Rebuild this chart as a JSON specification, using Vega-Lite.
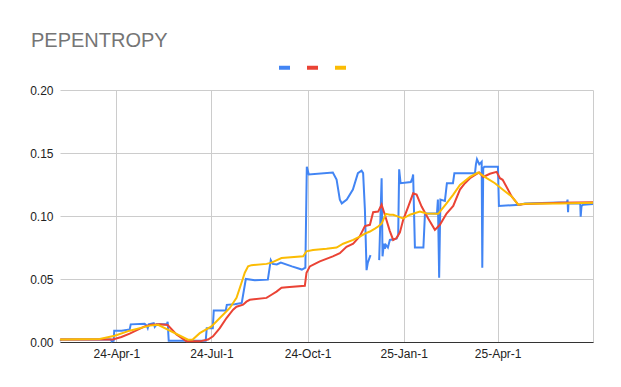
{
  "$schema": "https://vega.github.io/schema/vega-lite/v6.json",
  "width": 533,
  "height": 252,
  "autosize": {"type": "none"},
  "padding": {"left": 60, "top": 90, "right": 28, "bottom": 45},
  "background": "white",
  "title": {"text": "PEPENTROPY", "anchor": "start", "frame": "group", "dx": -29, "offset": -7, "baseline": "alphabetic", "fontSize": 20, "font": "Liberation Sans", "fontWeight": "normal", "color": "#757575"},
  "config": {
    "view": {"stroke": null},
    "axis": {"labelFont": "Liberation Sans", "labelFontSize": 12, "labelColor": "#222222", "gridColor": "#cccccc", "gridWidth": 1, "ticks": false, "title": null}
  },
  "data": {"values": [
    {"d": "2024-02-07T00:00", "s": "a", "v": 0.001},
    {"d": "2024-02-08T12:00", "s": "a", "v": 0.002},
    {"d": "2024-03-26T12:00", "s": "a", "v": 0.002},
    {"d": "2024-03-27T12:00", "s": "a", "v": 0.0005},
    {"d": "2024-03-29T10:00", "s": "a", "v": 0.001},
    {"d": "2024-03-29T22:00", "s": "a", "v": 0.009},
    {"d": "2024-04-06T00:00", "s": "a", "v": 0.009},
    {"d": "2024-04-13T17:00", "s": "a", "v": 0.010},
    {"d": "2024-04-14T17:00", "s": "a", "v": 0.014},
    {"d": "2024-04-28T00:00", "s": "a", "v": 0.0145},
    {"d": "2024-04-30T00:00", "s": "a", "v": 0.013},
    {"d": "2024-05-01T00:00", "s": "a", "v": 0.011},
    {"d": "2024-05-01T22:00", "s": "a", "v": 0.014},
    {"d": "2024-05-06T17:00", "s": "a", "v": 0.015},
    {"d": "2024-05-07T17:00", "s": "a", "v": 0.012},
    {"d": "2024-05-09T14:00", "s": "a", "v": 0.014},
    {"d": "2024-05-19T05:00", "s": "a", "v": 0.014},
    {"d": "2024-05-20T02:00", "s": "a", "v": 0.016},
    {"d": "2024-05-21T02:00", "s": "a", "v": 0.001},
    {"d": "2024-06-25T12:00", "s": "a", "v": 0.001},
    {"d": "2024-06-26T12:00", "s": "a", "v": 0.011},
    {"d": "2024-07-02T07:00", "s": "a", "v": 0.011},
    {"d": "2024-07-03T05:00", "s": "a", "v": 0.025},
    {"d": "2024-07-14T17:00", "s": "a", "v": 0.025},
    {"d": "2024-07-15T17:00", "s": "a", "v": 0.0295},
    {"d": "2024-07-23T07:00", "s": "a", "v": 0.030},
    {"d": "2024-07-30T00:00", "s": "a", "v": 0.031},
    {"d": "2024-08-02T22:00", "s": "a", "v": 0.050},
    {"d": "2024-08-11T12:00", "s": "a", "v": 0.049},
    {"d": "2024-08-24T00:00", "s": "a", "v": 0.0495},
    {"d": "2024-08-26T19:00", "s": "a", "v": 0.065},
    {"d": "2024-08-28T17:00", "s": "a", "v": 0.062},
    {"d": "2024-09-01T14:00", "s": "a", "v": 0.0615},
    {"d": "2024-09-05T10:00", "s": "a", "v": 0.063},
    {"d": "2024-09-16T00:00", "s": "a", "v": 0.060},
    {"d": "2024-09-25T14:00", "s": "a", "v": 0.0575},
    {"d": "2024-09-28T22:00", "s": "a", "v": 0.059},
    {"d": "2024-09-30T07:00", "s": "a", "v": 0.139},
    {"d": "2024-10-02T05:00", "s": "a", "v": 0.133},
    {"d": "2024-10-25T05:00", "s": "a", "v": 0.1345},
    {"d": "2024-10-28T19:00", "s": "a", "v": 0.129},
    {"d": "2024-10-31T22:00", "s": "a", "v": 0.113},
    {"d": "2024-11-02T19:00", "s": "a", "v": 0.110},
    {"d": "2024-11-07T14:00", "s": "a", "v": 0.113},
    {"d": "2024-11-13T10:00", "s": "a", "v": 0.121},
    {"d": "2024-11-18T05:00", "s": "a", "v": 0.134},
    {"d": "2024-11-21T17:00", "s": "a", "v": 0.136},
    {"d": "2024-11-23T05:00", "s": "a", "v": 0.134},
    {"d": "2024-11-24T22:00", "s": "a", "v": 0.105},
    {"d": "2024-11-26T12:00", "s": "a", "v": 0.057},
    {"d": "2024-11-27T17:00", "s": "a", "v": 0.063},
    {"d": "2024-11-30T07:00", "s": "a", "v": 0.069},
    {"d": "2024-12-03T00:00", "s": "a", "v": null},
    {"d": "2024-12-08T14:00", "s": "a", "v": 0.065},
    {"d": "2024-12-10T22:00", "s": "a", "v": 0.130},
    {"d": "2024-12-11T19:00", "s": "a", "v": 0.068},
    {"d": "2024-12-13T02:00", "s": "a", "v": 0.078},
    {"d": "2024-12-14T00:00", "s": "a", "v": 0.074},
    {"d": "2024-12-15T00:00", "s": "a", "v": 0.077},
    {"d": "2024-12-16T22:00", "s": "a", "v": 0.075},
    {"d": "2024-12-18T19:00", "s": "a", "v": 0.081},
    {"d": "2024-12-25T05:00", "s": "a", "v": 0.082},
    {"d": "2024-12-26T19:00", "s": "a", "v": 0.085},
    {"d": "2024-12-27T17:00", "s": "a", "v": 0.137},
    {"d": "2024-12-29T02:00", "s": "a", "v": 0.126},
    {"d": "2025-01-07T22:00", "s": "a", "v": 0.127},
    {"d": "2025-01-09T10:00", "s": "a", "v": 0.130},
    {"d": "2025-01-10T02:00", "s": "a", "v": 0.133},
    {"d": "2025-01-11T19:00", "s": "a", "v": 0.075},
    {"d": "2025-01-19T22:00", "s": "a", "v": 0.075},
    {"d": "2025-01-21T10:00", "s": "a", "v": 0.102},
    {"d": "2025-02-01T22:00", "s": "a", "v": 0.102},
    {"d": "2025-02-02T19:00", "s": "a", "v": 0.113},
    {"d": "2025-02-04T00:00", "s": "a", "v": 0.051},
    {"d": "2025-02-05T05:00", "s": "a", "v": 0.113},
    {"d": "2025-02-09T12:00", "s": "a", "v": 0.112},
    {"d": "2025-02-11T10:00", "s": "a", "v": 0.126},
    {"d": "2025-02-17T05:00", "s": "a", "v": 0.126},
    {"d": "2025-02-18T14:00", "s": "a", "v": 0.134},
    {"d": "2025-03-10T07:00", "s": "a", "v": 0.134},
    {"d": "2025-03-11T05:00", "s": "a", "v": 0.141},
    {"d": "2025-03-12T05:00", "s": "a", "v": 0.145},
    {"d": "2025-03-14T10:00", "s": "a", "v": 0.141},
    {"d": "2025-03-16T17:00", "s": "a", "v": 0.143},
    {"d": "2025-03-17T07:00", "s": "a", "v": 0.059},
    {"d": "2025-03-18T05:00", "s": "a", "v": 0.138},
    {"d": "2025-03-19T05:00", "s": "a", "v": 0.139},
    {"d": "2025-04-01T07:00", "s": "a", "v": 0.139},
    {"d": "2025-04-02T05:00", "s": "a", "v": 0.108},
    {"d": "2025-04-22T10:00", "s": "a", "v": 0.109},
    {"d": "2025-04-27T05:00", "s": "a", "v": 0.110},
    {"d": "2025-06-06T10:00", "s": "a", "v": 0.111},
    {"d": "2025-06-06T22:00", "s": "a", "v": 0.113},
    {"d": "2025-06-07T10:00", "s": "a", "v": 0.103},
    {"d": "2025-06-07T19:00", "s": "a", "v": 0.110},
    {"d": "2025-06-19T02:00", "s": "a", "v": 0.110},
    {"d": "2025-06-19T12:00", "s": "a", "v": 0.0995},
    {"d": "2025-06-20T07:00", "s": "a", "v": 0.108},
    {"d": "2025-06-21T19:00", "s": "a", "v": 0.109},
    {"d": "2025-07-01T07:00", "s": "a", "v": 0.1095},

    {"d": "2024-02-07T00:00", "s": "b", "v": 0.002},
    {"d": "2024-03-28T12:00", "s": "b", "v": 0.002},
    {"d": "2024-04-05T19:00", "s": "b", "v": 0.004},
    {"d": "2024-04-13T17:00", "s": "b", "v": 0.0066},
    {"d": "2024-04-28T02:00", "s": "b", "v": 0.0124},
    {"d": "2024-05-04T12:00", "s": "b", "v": 0.0137},
    {"d": "2024-05-12T12:00", "s": "b", "v": 0.014},
    {"d": "2024-05-20T02:00", "s": "b", "v": 0.0135},
    {"d": "2024-05-28T12:00", "s": "b", "v": 0.006},
    {"d": "2024-06-07T02:00", "s": "b", "v": 0.0005},
    {"d": "2024-06-19T19:00", "s": "b", "v": 0.0005},
    {"d": "2024-06-27T19:00", "s": "b", "v": 0.002},
    {"d": "2024-07-02T12:00", "s": "b", "v": 0.0045},
    {"d": "2024-07-09T00:00", "s": "b", "v": 0.011},
    {"d": "2024-07-15T10:00", "s": "b", "v": 0.019},
    {"d": "2024-07-21T17:00", "s": "b", "v": 0.0256},
    {"d": "2024-07-25T00:00", "s": "b", "v": 0.028},
    {"d": "2024-07-31T07:00", "s": "b", "v": 0.0296},
    {"d": "2024-08-03T12:00", "s": "b", "v": 0.032},
    {"d": "2024-08-06T17:00", "s": "b", "v": 0.0335},
    {"d": "2024-08-22T17:00", "s": "b", "v": 0.035},
    {"d": "2024-08-27T12:00", "s": "b", "v": 0.0375},
    {"d": "2024-09-01T07:00", "s": "b", "v": 0.040},
    {"d": "2024-09-06T02:00", "s": "b", "v": 0.043},
    {"d": "2024-09-10T22:00", "s": "b", "v": 0.0435},
    {"d": "2024-09-28T10:00", "s": "b", "v": 0.0446},
    {"d": "2024-09-30T00:00", "s": "b", "v": 0.055},
    {"d": "2024-10-03T05:00", "s": "b", "v": 0.060},
    {"d": "2024-10-08T00:00", "s": "b", "v": 0.062},
    {"d": "2024-10-12T19:00", "s": "b", "v": 0.064},
    {"d": "2024-10-25T05:00", "s": "b", "v": 0.068},
    {"d": "2024-10-31T22:00", "s": "b", "v": 0.0705},
    {"d": "2024-11-07T07:00", "s": "b", "v": 0.0755},
    {"d": "2024-11-13T17:00", "s": "b", "v": 0.078},
    {"d": "2024-11-20T02:00", "s": "b", "v": 0.084},
    {"d": "2024-11-24T22:00", "s": "b", "v": 0.092},
    {"d": "2024-11-29T17:00", "s": "b", "v": 0.093},
    {"d": "2024-12-02T19:00", "s": "b", "v": 0.103},
    {"d": "2024-12-07T14:00", "s": "b", "v": 0.1035},
    {"d": "2024-12-10T22:00", "s": "b", "v": 0.109},
    {"d": "2024-12-14T00:00", "s": "b", "v": 0.101},
    {"d": "2024-12-18T19:00", "s": "b", "v": 0.088},
    {"d": "2024-12-22T00:00", "s": "b", "v": 0.081},
    {"d": "2024-12-25T05:00", "s": "b", "v": 0.0825},
    {"d": "2024-12-28T10:00", "s": "b", "v": 0.087},
    {"d": "2024-12-31T14:00", "s": "b", "v": 0.097},
    {"d": "2025-01-05T10:00", "s": "b", "v": 0.1075},
    {"d": "2025-01-10T02:00", "s": "b", "v": 0.118},
    {"d": "2025-01-13T10:00", "s": "b", "v": 0.117},
    {"d": "2025-01-18T05:00", "s": "b", "v": 0.1075},
    {"d": "2025-01-24T12:00", "s": "b", "v": 0.098},
    {"d": "2025-01-30T22:00", "s": "b", "v": 0.089},
    {"d": "2025-02-04T17:00", "s": "b", "v": 0.093},
    {"d": "2025-02-11T02:00", "s": "b", "v": 0.102},
    {"d": "2025-02-17T12:00", "s": "b", "v": 0.108},
    {"d": "2025-02-23T22:00", "s": "b", "v": 0.121},
    {"d": "2025-02-28T17:00", "s": "b", "v": 0.126},
    {"d": "2025-03-05T12:00", "s": "b", "v": 0.130},
    {"d": "2025-03-11T22:00", "s": "b", "v": 0.1335},
    {"d": "2025-03-14T10:00", "s": "b", "v": 0.1345},
    {"d": "2025-03-18T05:00", "s": "b", "v": 0.131},
    {"d": "2025-03-24T14:00", "s": "b", "v": 0.1335},
    {"d": "2025-03-31T00:00", "s": "b", "v": 0.135},
    {"d": "2025-04-03T05:00", "s": "b", "v": 0.130},
    {"d": "2025-04-05T19:00", "s": "b", "v": 0.1287},
    {"d": "2025-04-09T14:00", "s": "b", "v": 0.123},
    {"d": "2025-04-14T10:00", "s": "b", "v": 0.1155},
    {"d": "2025-04-20T17:00", "s": "b", "v": 0.109},
    {"d": "2025-04-27T05:00", "s": "b", "v": 0.1095},
    {"d": "2025-05-30T17:00", "s": "b", "v": 0.1105},
    {"d": "2025-07-01T07:00", "s": "b", "v": 0.111},

    {"d": "2024-02-07T00:00", "s": "c", "v": 0.002},
    {"d": "2024-03-16T00:00", "s": "c", "v": 0.0024},
    {"d": "2024-03-30T10:00", "s": "c", "v": 0.005},
    {"d": "2024-04-13T17:00", "s": "c", "v": 0.009},
    {"d": "2024-05-02T22:00", "s": "c", "v": 0.013},
    {"d": "2024-05-10T22:00", "s": "c", "v": 0.0137},
    {"d": "2024-06-08T14:00", "s": "c", "v": 0.0018},
    {"d": "2024-06-13T02:00", "s": "c", "v": 0.002},
    {"d": "2024-06-19T19:00", "s": "c", "v": 0.007},
    {"d": "2024-07-01T00:00", "s": "c", "v": 0.0124},
    {"d": "2024-07-09T00:00", "s": "c", "v": 0.019},
    {"d": "2024-07-18T14:00", "s": "c", "v": 0.027},
    {"d": "2024-07-25T00:00", "s": "c", "v": 0.035},
    {"d": "2024-07-29T19:00", "s": "c", "v": 0.047},
    {"d": "2024-08-01T22:00", "s": "c", "v": 0.055},
    {"d": "2024-08-05T02:00", "s": "c", "v": 0.060},
    {"d": "2024-08-08T07:00", "s": "c", "v": 0.061},
    {"d": "2024-08-22T17:00", "s": "c", "v": 0.062},
    {"d": "2024-08-27T12:00", "s": "c", "v": 0.063},
    {"d": "2024-09-06T02:00", "s": "c", "v": 0.0666},
    {"d": "2024-09-26T19:00", "s": "c", "v": 0.068},
    {"d": "2024-09-30T00:00", "s": "c", "v": 0.072},
    {"d": "2024-10-06T07:00", "s": "c", "v": 0.073},
    {"d": "2024-10-19T05:00", "s": "c", "v": 0.074},
    {"d": "2024-10-28T19:00", "s": "c", "v": 0.075},
    {"d": "2024-11-04T02:00", "s": "c", "v": 0.078},
    {"d": "2024-11-13T17:00", "s": "c", "v": 0.081},
    {"d": "2024-11-20T02:00", "s": "c", "v": 0.0837},
    {"d": "2024-11-24T22:00", "s": "c", "v": 0.086},
    {"d": "2024-11-29T17:00", "s": "c", "v": 0.0877},
    {"d": "2024-12-04T12:00", "s": "c", "v": 0.090},
    {"d": "2024-12-07T14:00", "s": "c", "v": 0.0917},
    {"d": "2024-12-10T22:00", "s": "c", "v": 0.094},
    {"d": "2024-12-15T00:00", "s": "c", "v": 0.1017},
    {"d": "2024-12-18T19:00", "s": "c", "v": 0.101},
    {"d": "2024-12-22T00:00", "s": "c", "v": 0.101},
    {"d": "2024-12-26T19:00", "s": "c", "v": 0.0995},
    {"d": "2024-12-31T14:00", "s": "c", "v": 0.098},
    {"d": "2025-01-07T00:00", "s": "c", "v": 0.101},
    {"d": "2025-01-16T14:00", "s": "c", "v": 0.1035},
    {"d": "2025-01-23T00:00", "s": "c", "v": 0.102},
    {"d": "2025-02-03T02:00", "s": "c", "v": 0.1017},
    {"d": "2025-02-11T02:00", "s": "c", "v": 0.110},
    {"d": "2025-02-17T12:00", "s": "c", "v": 0.117},
    {"d": "2025-02-23T22:00", "s": "c", "v": 0.1247},
    {"d": "2025-03-05T12:00", "s": "c", "v": 0.131},
    {"d": "2025-03-13T10:00", "s": "c", "v": 0.1345},
    {"d": "2025-03-21T12:00", "s": "c", "v": 0.130},
    {"d": "2025-03-29T10:00", "s": "c", "v": 0.126},
    {"d": "2025-04-06T10:00", "s": "c", "v": 0.1207},
    {"d": "2025-04-14T10:00", "s": "c", "v": 0.1155},
    {"d": "2025-04-20T17:00", "s": "c", "v": 0.109},
    {"d": "2025-04-27T05:00", "s": "c", "v": 0.1098},
    {"d": "2025-05-30T17:00", "s": "c", "v": 0.110},
    {"d": "2025-07-01T07:00", "s": "c", "v": 0.1105}
  ]},
  "mark": {"type": "line", "strokeWidth": 2, "invalid": "break-paths-show-domains"},
  "encoding": {
    "x": {
      "field": "d", "type": "temporal",
      "scale": {"domain": [{"year": 2024, "month": 2, "date": 7}, {"year": 2025, "month": 7, "date": 1, "hours": 7}]},
      "axis": {
        "values": [
          {"year": 2024, "month": 4, "date": 1},
          {"year": 2024, "month": 7, "date": 1},
          {"year": 2024, "month": 10, "date": 1},
          {"year": 2025, "month": 1, "date": 1},
          {"year": 2025, "month": 4, "date": 1},
          {"year": 2025, "month": 7, "date": 1}
        ],
        "labelExpr": "year(datum.value) == 2025 && month(datum.value) == 6 ? '' : timeFormat(datum.value, '%y-%b-%-d')",
        "domain": true, "domainColor": "#333333", "domainWidth": 1,
        "labelPadding": 6, "labelFlush": false, "labelOverlap": false
      }
    },
    "y": {
      "field": "v", "type": "quantitative",
      "scale": {"domain": [0, 0.2], "nice": false},
      "axis": {"values": [0, 0.05, 0.1, 0.15, 0.2], "format": ".2f", "domain": false, "labelPadding": 7}
    },
    "color": {
      "field": "s", "type": "nominal",
      "scale": {"domain": ["a", "b", "c"], "range": ["#4285F4", "#EA4335", "#FBBC04"]},
      "legend": {
        "title": null, "orient": "none", "direction": "horizontal",
        "legendX": 217, "legendY": -30,
        "labelExpr": "''", "labelOffset": 0, "columnPadding": 1,
        "symbolType": "stroke", "symbolSize": 121, "symbolStrokeWidth": 4, "padding": 0
      }
    }
  }
}
